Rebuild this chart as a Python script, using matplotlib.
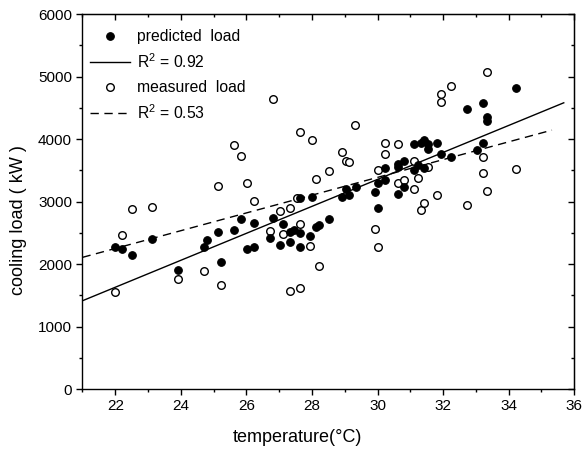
import numpy as np
import matplotlib
matplotlib.use("Agg")
import matplotlib.pyplot as plt
from matplotlib.ticker import MultipleLocator

plt.rcParams['font.family'] = ['Liberation Sans', 'DejaVu Sans']
plt.rcParams['mathtext.fontset'] = 'custom'
plt.rcParams['mathtext.rm'] = 'Liberation Sans'

# predicted load (filled circles)
pred_t = [22.00, 22.22, 22.50, 23.12, 23.91, 24.72, 24.80, 25.13, 25.21, 25.61,
          25.82, 26.02, 26.23, 26.23, 26.72, 26.82, 27.02, 27.13, 27.33, 27.33,
          27.45, 27.62, 27.64, 27.64, 27.94, 28.01, 28.11, 28.21, 28.52, 28.93,
          29.03, 29.13, 29.34, 29.93, 30.00, 30.02, 30.22, 30.22, 30.61, 30.61,
          30.61, 30.81, 30.81, 31.12, 31.12, 31.22, 31.32, 31.43, 31.43, 31.53,
          31.53, 31.81, 31.94, 32.24, 32.72, 33.03, 33.23, 33.23, 33.33, 33.33,
          34.23]
pred_load = [2277, 2235, 2144, 2400, 1904, 2277, 2384, 2517, 2027, 2544,
             2715, 2235, 2651, 2267, 2411, 2741, 2304, 2640, 2517, 2357,
             2544, 3050, 2491, 2267, 2448, 3067, 2587, 2624, 2725, 3067,
             3195, 3104, 3227, 3147, 3291, 2891, 3344, 3531, 3120, 3595,
             3557, 3227, 3653, 3920, 3504, 3584, 3941, 3984, 3531, 3920,
             3840, 3941, 3760, 3717, 4475, 3824, 4581, 3941, 4347, 4293,
             4811]

# measured load (open circles)
meas_t = [22.00, 22.22, 22.50, 23.12, 23.91, 24.72, 25.13, 25.21, 25.61, 25.82,
          26.02, 26.23, 26.72, 26.82, 27.02, 27.13, 27.33, 27.33, 27.53, 27.62,
          27.62, 27.64, 27.94, 28.01, 28.11, 28.22, 28.52, 28.93, 29.03, 29.13,
          29.32, 29.92, 30.00, 30.00, 30.22, 30.22, 30.61, 30.61, 30.81, 31.12,
          31.12, 31.22, 31.32, 31.43, 31.53, 31.81, 31.94, 31.94, 32.24, 32.72,
          33.23, 33.23, 33.33, 33.33, 34.23]
meas_load = [1547, 2464, 2875, 2917, 1765, 1888, 3248, 1669, 3904, 3733,
             3291, 3003, 2533, 4635, 2850, 2480, 2891, 1573, 3061, 1611,
             4107, 2640, 2288, 3984, 3360, 1968, 3488, 3797, 3653, 3627,
             4219, 2555, 2277, 3504, 3931, 3755, 3915, 3291, 3344, 3653,
             3200, 3371, 2864, 2971, 3547, 3104, 4720, 4587, 4853, 2944,
             3707, 3451, 3173, 5077, 3515]

# fitted regression lines: slope, intercept, x-range
fit_pred = (215.8, -3119.0)
fit_pred_range = (21.0, 35.68)
fit_meas = (142.2, -879.0)
fit_meas_range = (21.0, 35.32)

fig = plt.figure(figsize=(5.83, 4.55), dpi=100)
ax = fig.add_axes([0.1415, 0.145, 0.8435, 0.824])

ax.scatter(pred_t, pred_load, s=30, c='black', edgecolors='black',
           linewidths=0.8, zorder=3, label='predicted  load')
xs = np.array(fit_pred_range)
ax.plot(xs, fit_pred[0] * xs + fit_pred[1], color='black', lw=1.0,
        label='R$^2$ = 0.92')
ax.scatter(meas_t, meas_load, s=30, facecolors='white', edgecolors='black',
           linewidths=1.0, zorder=2, label='measured  load')
xs = np.array(fit_meas_range)
ax.plot(xs, fit_meas[0] * xs + fit_meas[1], color='black', lw=1.0,
        dashes=(6, 4), label='R$^2$ = 0.53')

ax.set_xlim(21, 36)
ax.set_ylim(0, 6000)
ax.xaxis.set_major_locator(MultipleLocator(2))
ax.xaxis.set_minor_locator(MultipleLocator(1))
ax.yaxis.set_major_locator(MultipleLocator(1000))
ax.yaxis.set_minor_locator(MultipleLocator(500))
ax.tick_params(which='both', direction='out', labelsize=11, width=1.0)
ax.tick_params(which='major', length=4)
ax.tick_params(which='minor', length=2.5)

# mirrored ticks on top and right, pointing inward
top = ax.secondary_xaxis('top')
top.xaxis.set_major_locator(MultipleLocator(2))
top.xaxis.set_minor_locator(MultipleLocator(1))
top.tick_params(which='both', direction='in', labeltop=False, width=1.0)
top.tick_params(which='major', length=4)
top.tick_params(which='minor', length=2.5)
right = ax.secondary_yaxis('right')
right.yaxis.set_major_locator(MultipleLocator(1000))
right.yaxis.set_minor_locator(MultipleLocator(500))
right.tick_params(which='both', direction='in', labelright=False, width=1.0)
right.tick_params(which='major', length=4)
right.tick_params(which='minor', length=2.5)

for sp in ax.spines.values():
    sp.set_linewidth(1.0)

ax.set_xlabel('temperature(°C)', fontsize=13)
ax.set_ylabel('cooling load ( kW )', fontsize=13)
ax.xaxis.set_label_coords(0.438, -0.107)
ax.yaxis.set_label_coords(-0.113, 0.45)

ax.legend(loc='upper left', bbox_to_anchor=(0.0155, 0.9613), frameon=False,
          fontsize=11.3, handlelength=2.52, handletextpad=0.46,
          labelspacing=0.55, borderpad=0, borderaxespad=0, scatterpoints=1)

fig.savefig('out.png', dpi=100)
